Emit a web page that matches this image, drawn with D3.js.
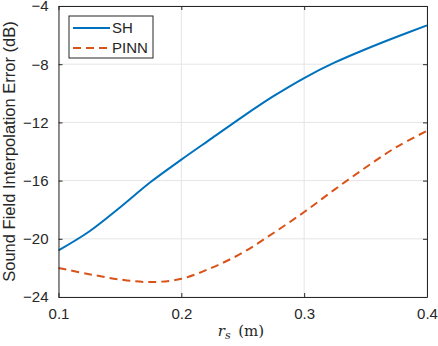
<!DOCTYPE html>
<html>
<head>
<meta charset="utf-8">
<style>
    body { margin: 0; background: #fff; }
    text { font-family: "Liberation Sans", Arial, sans-serif; fill: #262626; }
</style>
</head>
<body>
<svg id="chart"></svg>
<script src="https://cdn.jsdelivr.net/npm/d3@7"></script>
<script>
    // data
    let rs = [0.1, 0.125, 0.15, 0.175, 0.2, 0.225, 0.25, 0.275, 0.3, 0.325, 0.35, 0.375, 0.4];
    let shErr = [-20.8, -19.5, -17.85, -16.1, -14.56, -13.08, -11.6, -10.2, -8.95, -7.88, -6.97, -6.13, -5.33];
    let pinnErr = [-22.0, -22.43, -22.8, -22.97, -22.75, -21.98, -20.95, -19.6, -18.16, -16.6, -15.1, -13.7, -12.58];
    let xTicks = [0.1, 0.2, 0.3, 0.4];
    let yTicks = [-24, -20, -16, -12, -8, -4];
    let seriesNames = ["SH", "PINN"];

    let width = 438,
        height = 346;
    let margin = {left: 58.5, right: 11, top: 6, bottom: 49};

    let svg = d3.select("#chart")
        .attr("width", width)
        .attr("height", height);

    let x = d3.scaleLinear().domain([0.1, 0.4]).range([margin.left, width - margin.right]);
    let y = d3.scaleLinear().domain([-24, -4]).range([height - margin.bottom, margin.top]);

    // grid
    let grid = svg.append("g").attr("stroke", "#e5e5e5").attr("stroke-width", 1);
    grid.selectAll(".gx").data(xTicks).enter().append("line")
        .attr("x1", d => x(d)).attr("x2", d => x(d))
        .attr("y1", y(-24)).attr("y2", y(-4));
    grid.selectAll(".gy").data(yTicks).enter().append("line")
        .attr("x1", x(0.1)).attr("x2", x(0.4))
        .attr("y1", d => y(d)).attr("y2", d => y(d));

    // lines
    let line = d3.line().x((d, i) => x(rs[i])).y(d => y(d)).curve(d3.curveCatmullRom);
    svg.append("path").datum(shErr)
        .attr("d", line)
        .attr("fill", "none")
        .attr("stroke", "#0072BD")
        .attr("stroke-width", 2);
    svg.append("path").datum(pinnErr)
        .attr("d", line)
        .attr("fill", "none")
        .attr("stroke", "#D95319")
        .attr("stroke-width", 2)
        .attr("stroke-dasharray", "8,5");

    // axes (box, ticks inside)
    let axisColor = "#262626";
    svg.append("g").attr("transform", "translate(0," + y(-24) + ")")
        .call(d3.axisBottom(x).tickValues(xTicks).tickSizeInner(-4).tickSizeOuter(0).tickPadding(11).tickFormat(d3.format(".1f")));
    svg.append("g").attr("transform", "translate(0," + y(-4) + ")")
        .call(d3.axisTop(x).tickValues(xTicks).tickSizeInner(-4).tickSizeOuter(0).tickFormat(""));
    svg.append("g").attr("transform", "translate(" + x(0.1) + ",0)")
        .call(d3.axisLeft(y).tickValues(yTicks).tickSizeInner(-4).tickSizeOuter(0).tickPadding(10).tickFormat(d3.format("d")));
    svg.append("g").attr("transform", "translate(" + x(0.4) + ",0)")
        .call(d3.axisRight(y).tickValues(yTicks).tickSizeInner(-4).tickSizeOuter(0).tickFormat(""));

    svg.selectAll(".domain").attr("stroke", axisColor).attr("stroke-width", 1);
    svg.selectAll(".tick line").attr("stroke", axisColor);
    svg.selectAll(".tick text")
        .style("font-family", "'Liberation Sans', Arial, sans-serif")
        .style("font-size", "15px")
        .attr("fill", axisColor);

    // axis labels
    svg.append("text")
        .attr("transform", "translate(15," + ((y(-4) + y(-24)) / 2) + ") rotate(-90)")
        .attr("text-anchor", "middle")
        .style("font-size", "16.5px")
        .text("Sound Field Interpolation Error (dB)");

    let xl = svg.append("text")
        .attr("x", 241)
        .attr("y", 336)
        .attr("text-anchor", "middle")
        .style("font-family", "'DejaVu Serif', 'Liberation Serif', serif")
        .style("font-size", "15px");
    xl.append("tspan").style("font-style", "italic").text("r");
    xl.append("tspan").style("font-style", "italic").style("font-size", "11px").attr("dy", 3).text("s");
    xl.append("tspan").attr("dy", -3).text("\u2002(m)");

    // legend
    let lg = svg.append("g").attr("transform", "translate(69,16)");
    lg.append("rect")
        .attr("width", 84).attr("height", 42)
        .attr("fill", "#fff").attr("stroke", axisColor).attr("stroke-width", 1);
    let colors = ["#0072BD", "#D95319"];
    seriesNames.forEach((name, i) => {
        let yy = 12 + i * 20;
        lg.append("line")
            .attr("x1", 4).attr("x2", 41)
            .attr("y1", yy).attr("y2", yy)
            .attr("stroke", colors[i])
            .attr("stroke-width", 2)
            .attr("stroke-dasharray", i === 1 ? "8,5" : null);
        lg.append("text")
            .attr("x", 43).attr("y", yy)
            .attr("dy", "0.36em")
            .style("font-size", "15px")
            .text(name);
    });
</script>
</body>
</html>
